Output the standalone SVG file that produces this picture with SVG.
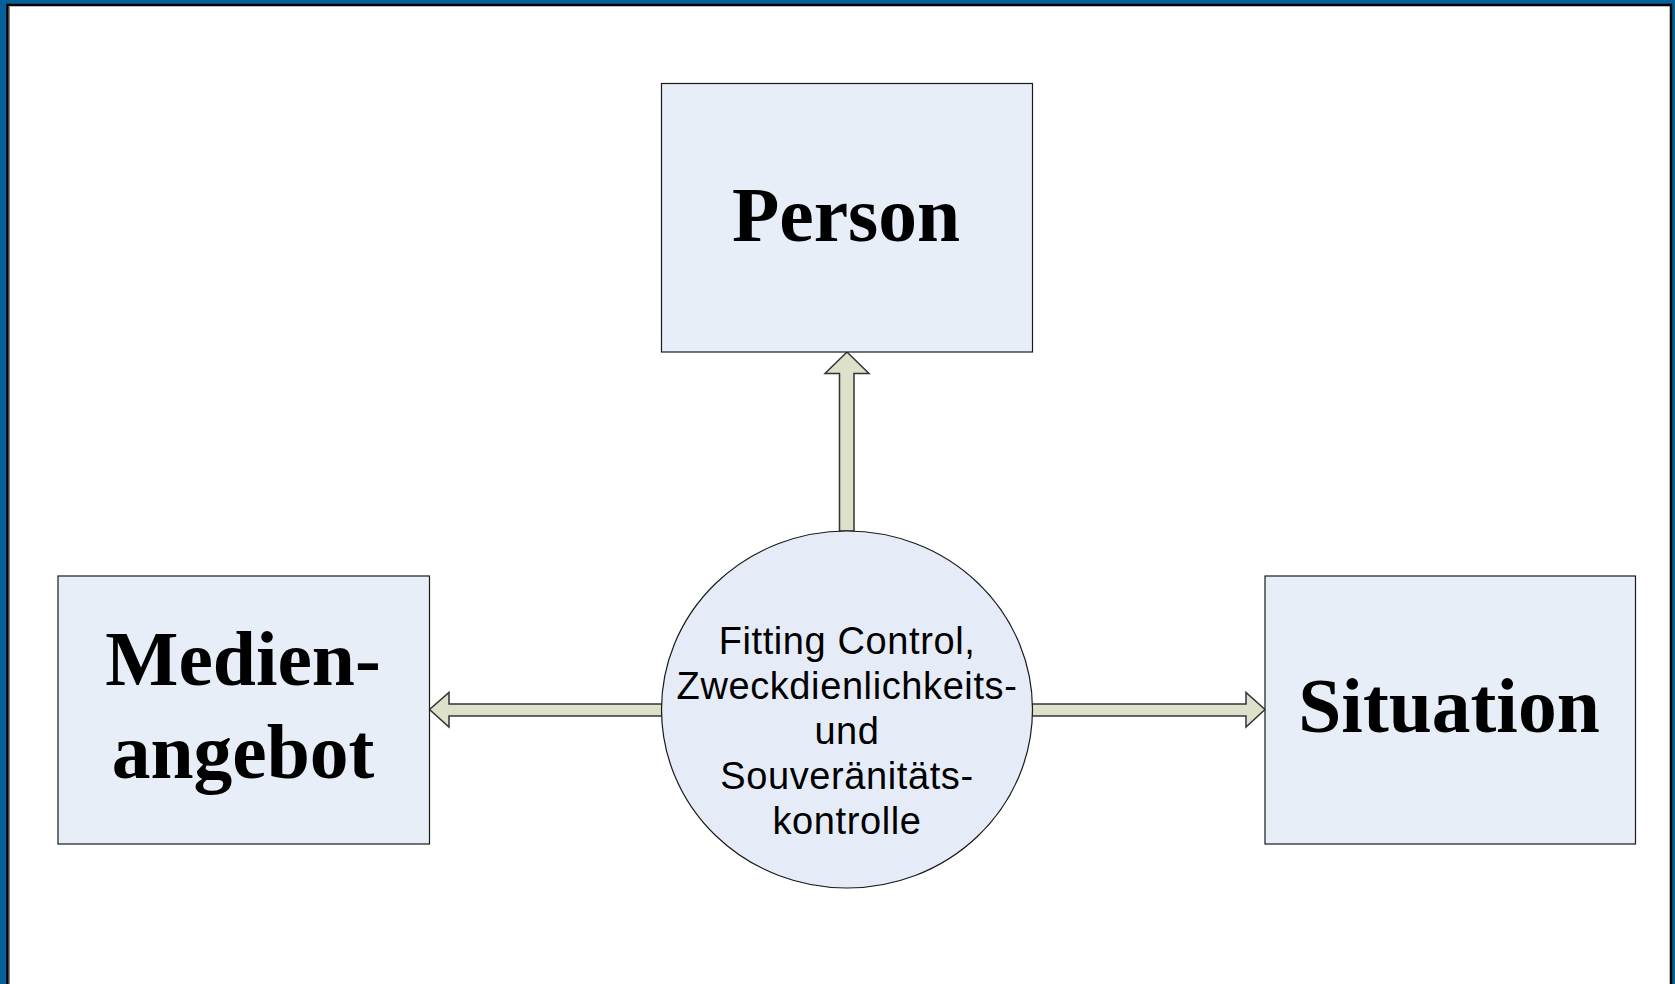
<svg xmlns="http://www.w3.org/2000/svg" width="1675" height="984" viewBox="0 0 1675 984">
<style>
.box{fill:#E8EEF8;stroke:#1a1a1a;stroke-width:1.2}
.big{font-family:"Liberation Serif","Times New Roman",serif;font-weight:bold;font-size:77.5px;fill:#000;text-anchor:middle}
.small{font-family:"Liberation Sans",Arial,sans-serif;font-size:38px;letter-spacing:0.6px;fill:#000;text-anchor:middle}
.arrow{fill:#DEE1C9;stroke:#333;stroke-width:1.5;stroke-linejoin:miter}
</style>
<rect x="0" y="0" width="1675" height="984" fill="#06609A"/>
<rect x="7.5" y="5" width="1663.5" height="1000" fill="#FFFFFF" stroke="#000" stroke-width="2.5"/>
<line x1="9.5" y1="6.5" x2="9.5" y2="984" stroke="#888" stroke-width="1"/>
<g id="connectors">
<polygon class="arrow" points="839.5,531 839.5,373.5 825,373.5 847,352 869,373.5 854,373.5 854,531"/>
<polygon class="arrow" points="662,704 449,704 449,692.5 429.5,709.5 449,727 449,716 662,716"/>
<polygon class="arrow" points="1032,704 1246,704 1246,692.5 1265,709.5 1246,727 1246,716 1032,716"/>
</g>
<g id="person">
<rect class="box" x="661.5" y="83.5" width="371" height="268.5"/>
<text class="big" x="846" y="241">Person</text>
</g>
<g id="medienangebot">
<rect class="box" x="58" y="576" width="371.5" height="268"/>
<text class="big" x="243" y="685">Medien-</text>
<text class="big" x="243" y="778">angebot</text>
</g>
<g id="situation">
<rect class="box" x="1265" y="576" width="370.5" height="268"/>
<text class="big" x="1449" y="732">Situation</text>
</g>
<g id="control">
<ellipse cx="847" cy="709.5" rx="185.5" ry="178.5" fill="#E6ECF7" stroke="#1a1a1a" stroke-width="1.2"/>
<text class="small" x="847" y="654">Fitting Control,</text>
<text class="small" x="847" y="699">Zweckdienlichkeits-</text>
<text class="small" x="847" y="744">und</text>
<text class="small" x="847" y="789">Souveränitäts-</text>
<text class="small" x="847" y="834">kontrolle</text>
</g>
</svg>
